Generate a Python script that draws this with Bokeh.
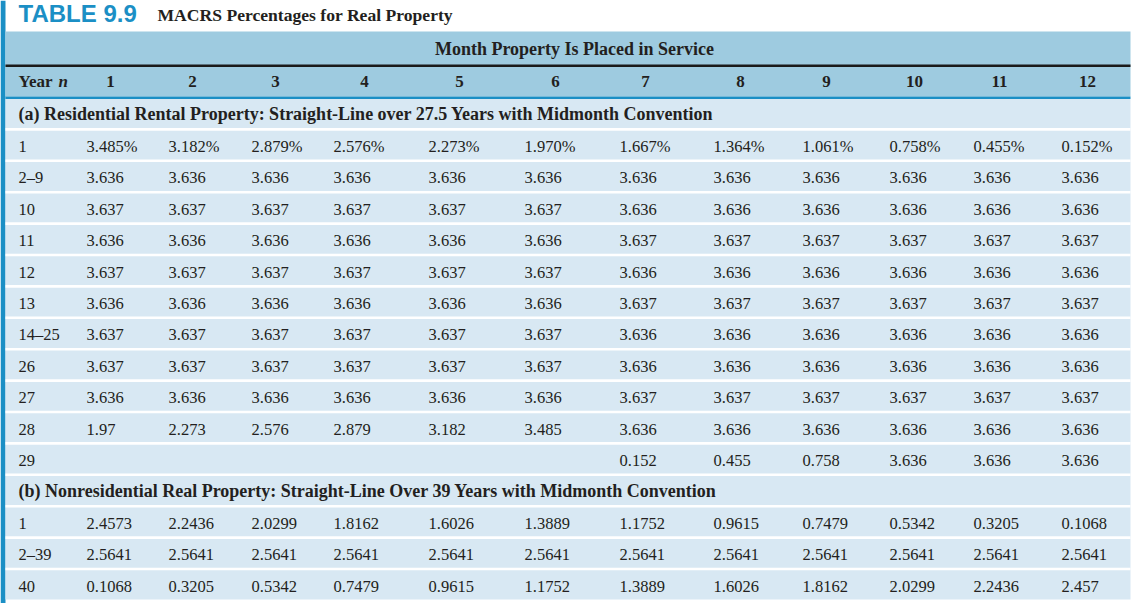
from bokeh.plotting import figure
from bokeh.models import ColumnDataSource, Range1d
from bokeh.core.properties import value
from bokeh.embed import file_html
from bokeh.resources import INLINE

# ---------------- data ----------------
table_tag = "TABLE 9.9"
table_title = "MACRS Percentages for Real Property"
super_header = "Month Property Is Placed in Service"
months = ["1", "2", "3", "4", "5", "6", "7", "8", "9", "10", "11", "12"]

section_a = "(a) Residential Rental Property: Straight-Line over 27.5 Years with Midmonth Convention"
years_a = ["1", "2\u20139", "10", "11", "12", "13", "14\u201325", "26", "27", "28", "29"]
a_y1 = ["3.485%", "3.182%", "2.879%", "2.576%", "2.273%", "1.970%", "1.667%", "1.364%", "1.061%", "0.758%", "0.455%", "0.152%"]
a_y2_9 = ["3.636"] * 12
a_y10 = ["3.637"] * 6 + ["3.636"] * 6
a_y11 = ["3.636"] * 6 + ["3.637"] * 6
a_y12 = ["3.637"] * 6 + ["3.636"] * 6
a_y13 = ["3.636"] * 6 + ["3.637"] * 6
a_y14_25 = ["3.637"] * 6 + ["3.636"] * 6
a_y26 = ["3.637"] * 6 + ["3.636"] * 6
a_y27 = ["3.636"] * 6 + ["3.637"] * 6
a_y28 = ["1.97", "2.273", "2.576", "2.879", "3.182", "3.485", "3.636", "3.636", "3.636", "3.636", "3.636", "3.636"]
a_y29 = ["", "", "", "", "", "", "0.152", "0.455", "0.758", "3.636", "3.636", "3.636"]
rates_a = [a_y1, a_y2_9, a_y10, a_y11, a_y12, a_y13, a_y14_25, a_y26, a_y27, a_y28, a_y29]

section_b = "(b) Nonresidential Real Property: Straight-Line Over 39 Years with Midmonth Convention"
years_b = ["1", "2\u201339", "40"]
b_y1 = ["2.4573", "2.2436", "2.0299", "1.8162", "1.6026", "1.3889", "1.1752", "0.9615", "0.7479", "0.5342", "0.3205", "0.1068"]
b_y2_39 = ["2.5641"] * 12
b_y40 = ["0.1068", "0.3205", "0.5342", "0.7479", "0.9615", "1.1752", "1.3889", "1.6026", "1.8162", "2.0299", "2.2436", "2.457"]
rates_b = [b_y1, b_y2_39, b_y40]

# ---------------- layout (pixel space of the window) ----------------
W, H = 1133, 603
X0, X1 = 0, W
Y0, Y1 = 0, H
col_left = [86, 168, 251, 333, 428, 524, 619, 713, 802, 889, 973, 1061]
head_center = [110, 192, 275, 364, 459, 555, 645, 740, 826, 914, 999, 1087]
TL, TR = 5, 1130
ROW0, STEP = 98, 31.4

BLUE = "#1b8fc5"
HEAD_BG = "#9ecbe0"
ROW_BG = "#d8e8f3"
INK = "#231f20"
SERIF = value("Liberation Serif")
SANS = value("Liberation Sans")
FS = "16.5px"
FSB = "18px"

p = figure(width=W, height=H, output_backend="svg", toolbar_location=None,
           x_range=Range1d(X0, X1), y_range=Range1d(Y1, Y0),
           min_border=0, x_axis_location=None, y_axis_location=None)
p.grid.visible = False
p.outline_line_color = None
p.background_fill_color = "white"
p.border_fill_color = "white"

# left accent bar
p.quad(left=[0], right=[5], top=[Y0], bottom=[Y1], fill_color=BLUE, line_color=None)

# header band and rules
p.quad(left=[TL], right=[TR], top=[31], bottom=[96], fill_color=HEAD_BG, line_color=None)
p.quad(left=[TL], right=[TR], top=[64], bottom=[66.5], fill_color="#1a1a1a", line_color=None)
p.quad(left=[TL], right=[TR], top=[96], bottom=[98.5], fill_color=BLUE, line_color=None)

# body
n_rows = 2 + len(rates_a) + len(rates_b)
p.quad(left=[TL], right=[TR], top=[98.5], bottom=[ROW0 + n_rows * STEP - 1.5], fill_color=ROW_BG, line_color=None)
sep_y = [ROW0 + k * STEP - 0.5 for k in range(1, n_rows)]
p.quad(left=[TL] * len(sep_y), right=[TR] * len(sep_y),
       top=[y - 1.3 for y in sep_y], bottom=[y + 1.3 for y in sep_y],
       fill_color="white", line_color=None)

# title
p.text(x=[18], y=[13], text=[table_tag], text_font=SANS, text_font_style="bold",
       text_font_size="24px", text_color=BLUE, text_baseline="middle")
p.text(x=[157], y=[14.5], text=[table_title], text_font=SERIF, text_font_style="bold",
       text_font_size="17.6px", text_color=INK, text_baseline="middle")

# header texts
p.text(x=[574], y=[48.5], text=[super_header], text_font=SERIF, text_font_style="bold",
       text_font_size=FSB, text_color=INK, text_align="center", text_baseline="middle")
p.text(x=[18], y=[81], text=["Year"], text_font=SERIF, text_font_style="bold",
       text_font_size="17px", text_color=INK, text_baseline="middle")
p.text(x=[58], y=[81], text=["n"], text_font=SERIF, text_font_style="bold italic",
       text_font_size="17px", text_color=INK, text_baseline="middle")
p.text(x=head_center, y=[81] * 12, text=months, text_font=SERIF, text_font_style="bold",
       text_font_size="17px", text_color=INK, text_align="center", text_baseline="middle")

def row_y(k):
    return ROW0 + k * STEP + 16.5

# section rows
sections = [(0, section_a), (1 + len(rates_a), section_b)]
p.text(x=[18, 18], y=[row_y(k) - 1 for k, _ in sections], text=[s for _, s in sections],
       text_font=SERIF, text_font_style="bold", text_font_size=FSB, text_color=INK,
       text_baseline="middle")

# data rows
xs, ys, ts = [], [], []
lx, ly, lt = [], [], []
for i, (lab, vals) in enumerate(zip(years_a, rates_a)):
    k = 1 + i
    lx.append(18); ly.append(row_y(k)); lt.append(lab)
    for j, v in enumerate(vals):
        xs.append(col_left[j]); ys.append(row_y(k)); ts.append(v)
for i, (lab, vals) in enumerate(zip(years_b, rates_b)):
    k = 2 + len(rates_a) + i
    lx.append(18); ly.append(row_y(k)); lt.append(lab)
    for j, v in enumerate(vals):
        xs.append(col_left[j]); ys.append(row_y(k)); ts.append(v)

src = ColumnDataSource(dict(x=xs, y=ys, t=ts))
p.text(x="x", y="y", text="t", source=src, text_font=SERIF, text_font_size=FS,
       text_color=INK, text_baseline="middle")
lsrc = ColumnDataSource(dict(x=lx, y=ly, t=lt))
p.text(x="x", y="y", text="t", source=lsrc, text_font=SERIF, text_font_size=FS,
       text_color=INK, text_baseline="middle")

open("out.html", "w").write(file_html(p, INLINE))
